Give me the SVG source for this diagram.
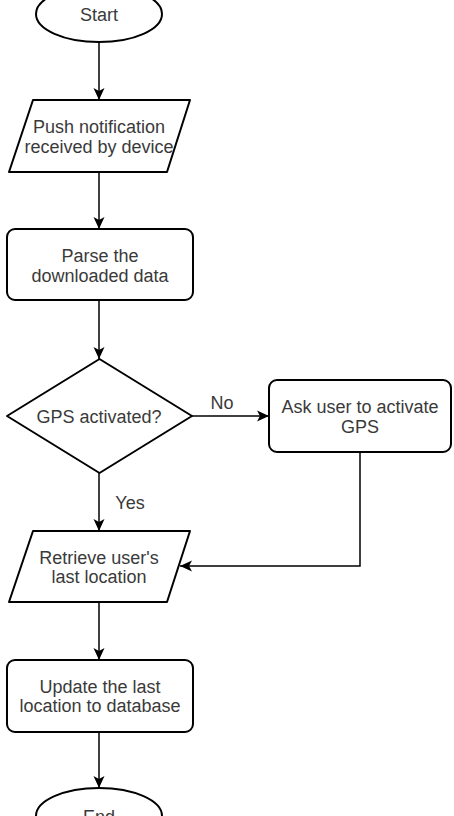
<svg xmlns="http://www.w3.org/2000/svg" width="454" height="816" viewBox="0 0 454 816">
<defs>
<style>
.shape{fill:#fff;stroke:#000;stroke-width:2;stroke-linejoin:round}
.conn{fill:none;stroke:#000;stroke-width:1.5}
.t{font-family:"Liberation Sans",Arial,sans-serif;font-size:18px;fill:#3a3a3a;text-anchor:middle;dominant-baseline:central}
</style>
<marker id="arr" markerUnits="userSpaceOnUse" markerWidth="14" markerHeight="14" viewBox="0 0 14 14" refX="13" refY="7" orient="auto">
<path d="M1,1.5 L13,7 L1,12.5 L4,7 Z" fill="#000"/>
</marker>
</defs>
<rect width="454" height="816" fill="#fff"/>
<g id="connectors">
<line class="conn" x1="99" y1="42" x2="99" y2="100" marker-end="url(#arr)"/>
<line class="conn" x1="99" y1="172" x2="99" y2="229" marker-end="url(#arr)"/>
<line class="conn" x1="99" y1="300" x2="99" y2="359" marker-end="url(#arr)"/>
<line class="conn" x1="192" y1="416" x2="269" y2="416" marker-end="url(#arr)"/>
<line class="conn" x1="99" y1="473" x2="99" y2="531" marker-end="url(#arr)"/>
<polyline class="conn" points="360,452 360,566 180,566" marker-end="url(#arr)"/>
<line class="conn" x1="99" y1="602" x2="99" y2="660" marker-end="url(#arr)"/>
<line class="conn" x1="99" y1="732" x2="99" y2="788" marker-end="url(#arr)"/>
<text class="t" x="222" y="403">No</text>
<text class="t" x="130" y="503">Yes</text>
</g>
<g id="start">
<ellipse class="shape" cx="99" cy="14" rx="63" ry="28"/>
<text class="t" x="99" y="15">Start</text>
</g>
<g id="push">
<polygon class="shape" points="33,100 190,100 167,172 9,172"/>
<text class="t" x="99" y="127">Push notification</text>
<text class="t" x="99" y="147">received by  device</text>
</g>
<g id="parse">
<rect class="shape" x="7" y="229" width="186" height="71" rx="8"/>
<text class="t" x="100" y="256">Parse the</text>
<text class="t" x="100" y="276">downloaded data</text>
</g>
<g id="gps">
<polygon class="shape" points="99.5,359 192,416 99.5,473 7,416"/>
<text class="t" x="99" y="417">GPS activated?</text>
</g>
<g id="ask">
<rect class="shape" x="269" y="380" width="182" height="72" rx="8"/>
<text class="t" x="360" y="407">Ask user to activate</text>
<text class="t" x="360" y="427">GPS</text>
</g>
<g id="retrieve">
<polygon class="shape" points="33,531 190,531 167,602 9,602"/>
<text class="t" x="99" y="558">Retrieve user's</text>
<text class="t" x="99" y="577">last location</text>
</g>
<g id="update">
<rect class="shape" x="7" y="660" width="186" height="72" rx="8"/>
<text class="t" x="100" y="687">Update the last</text>
<text class="t" x="100" y="706">location to database</text>
</g>
<g id="end">
<ellipse class="shape" cx="99" cy="816" rx="63" ry="28"/>
<text class="t" x="99" y="817">End</text>
</g>
</svg>
